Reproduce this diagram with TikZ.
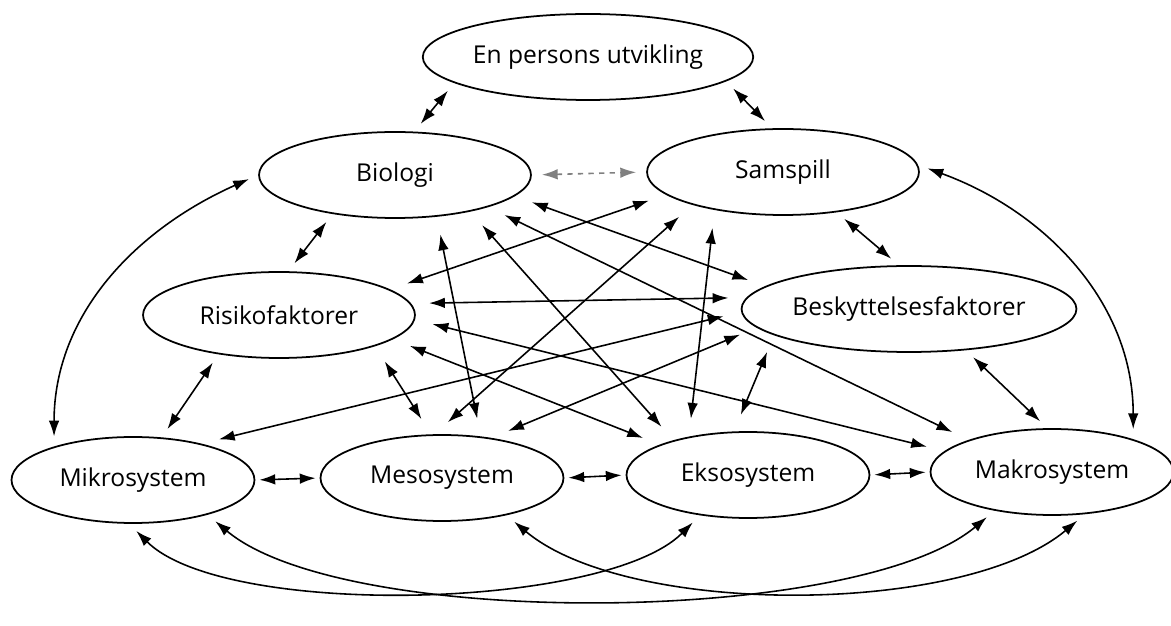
\documentclass[tikz,border=0pt]{standalone}
\usepackage{fontspec}
\setmainfont{Open Sans}
\usetikzlibrary{shapes.geometric,arrows.meta}

\tikzset{
	felt/.style={ellipse, draw, line width=1pt, minimum height=1.72cm,
		inner sep=1pt, font=\fontsize{14}{16}\selectfont},
	stor/.style={felt, minimum width=5.44cm},
	system/.style={felt, minimum width=4.86cm},
	pil/.style={<->, line width=0.9pt, >={Latex[length=9pt,width=6pt]},
		shorten <=0.2cm, shorten >=0.2cm},
	kort/.style={pil, shorten <=0.08cm, shorten >=0.08cm},
	nett/.style={pil, shorten <=0.36cm, shorten >=0.36cm},
}

\begin{document}
\begin{tikzpicture}[x=0.02cm, y=0.02cm]
			\useasboundingbox (0,0) rectangle (1171,626);

			% felt
			\node[stor] (person) at (588,569) {En persons utvikling};
			\node[stor] (biologi) at (395,451) {Biologi};
			\node[stor] (samspill) at (783,454) {Samspill};
			\node[stor] (risiko) at (279,311) {Risikofaktorer};
			\node[stor] (beskyttelse) at (909,317) {Beskyttelsesfaktorer};
			\node[system] (mikro) at (133,146) {Mikrosystem};
			\node[system] (meso) at (442,148) {Mesosystem};
			\node[system] (ekso) at (748,151) {Eksosystem};
			\node[system] (makro) at (1052,154) {Makrosystem};

			% ytre ring
			\draw[pil] (biologi.66) -- (person.-169);
			\draw[pil] (person.-10) -- (samspill.104);
			\draw[pil, dashed, draw=gray] (biologi.east) -- (samspill.west);
			\draw[pil] (biologi.-148) -- (risiko.78);
			\draw[pil] (samspill.-37) -- (beskyttelse.103);
			\draw[pil] (risiko.-147) -- (mikro.56);
			\draw[pil] (beskyttelse.-36) -- (makro.96);
			\draw[kort] (mikro.east) -- (meso.west);
			\draw[kort] (meso.east) -- (ekso.west);
			\draw[kort] (ekso.east) -- (makro.west);

			% buer
			\draw[pil] (biologi.180) to[out=204, in=90] (mikro.157);
			\draw[pil] (samspill.3) to[out=-20, in=90] (makro.22);
			\draw[pil] (mikro.-95) to[out=-45, in=-135, looseness=0.6] (ekso.-140);
			\draw[pil] (mikro.-25) to[out=-40, in=-140, looseness=0.58] (makro.-146);
			\draw[pil] (meso.-30) to[out=-40, in=-140, looseness=0.7] (makro.-52);

			% kryss i midten
			\draw[nett] (biologi.-10) -- (beskyttelse.171);
			\draw[nett] (biologi.-19) -- (makro.159);
			\draw[nett] (biologi.-26) -- (ekso.155);
			\draw[nett] (biologi.-45) -- (meso.47);
			\draw[nett] (samspill.-169) -- (risiko.13);
			\draw[nett] (samspill.-160) -- (meso.100);
			\draw[nett] (samspill.-151) -- (ekso.147);
			\draw[nett] (risiko.5) -- (beskyttelse.176);
			\draw[nett] (risiko.-2) -- (makro.169);
			\draw[nett] (risiko.-12) -- (ekso.161);
			\draw[nett] (risiko.-18) -- (meso.104);
			\draw[nett] (beskyttelse.181) -- (mikro.28);
			\draw[nett] (beskyttelse.-173) -- (meso.39);
			\draw[nett] (beskyttelse.-169) -- (ekso.108);
		\end{tikzpicture}
\end{document}
